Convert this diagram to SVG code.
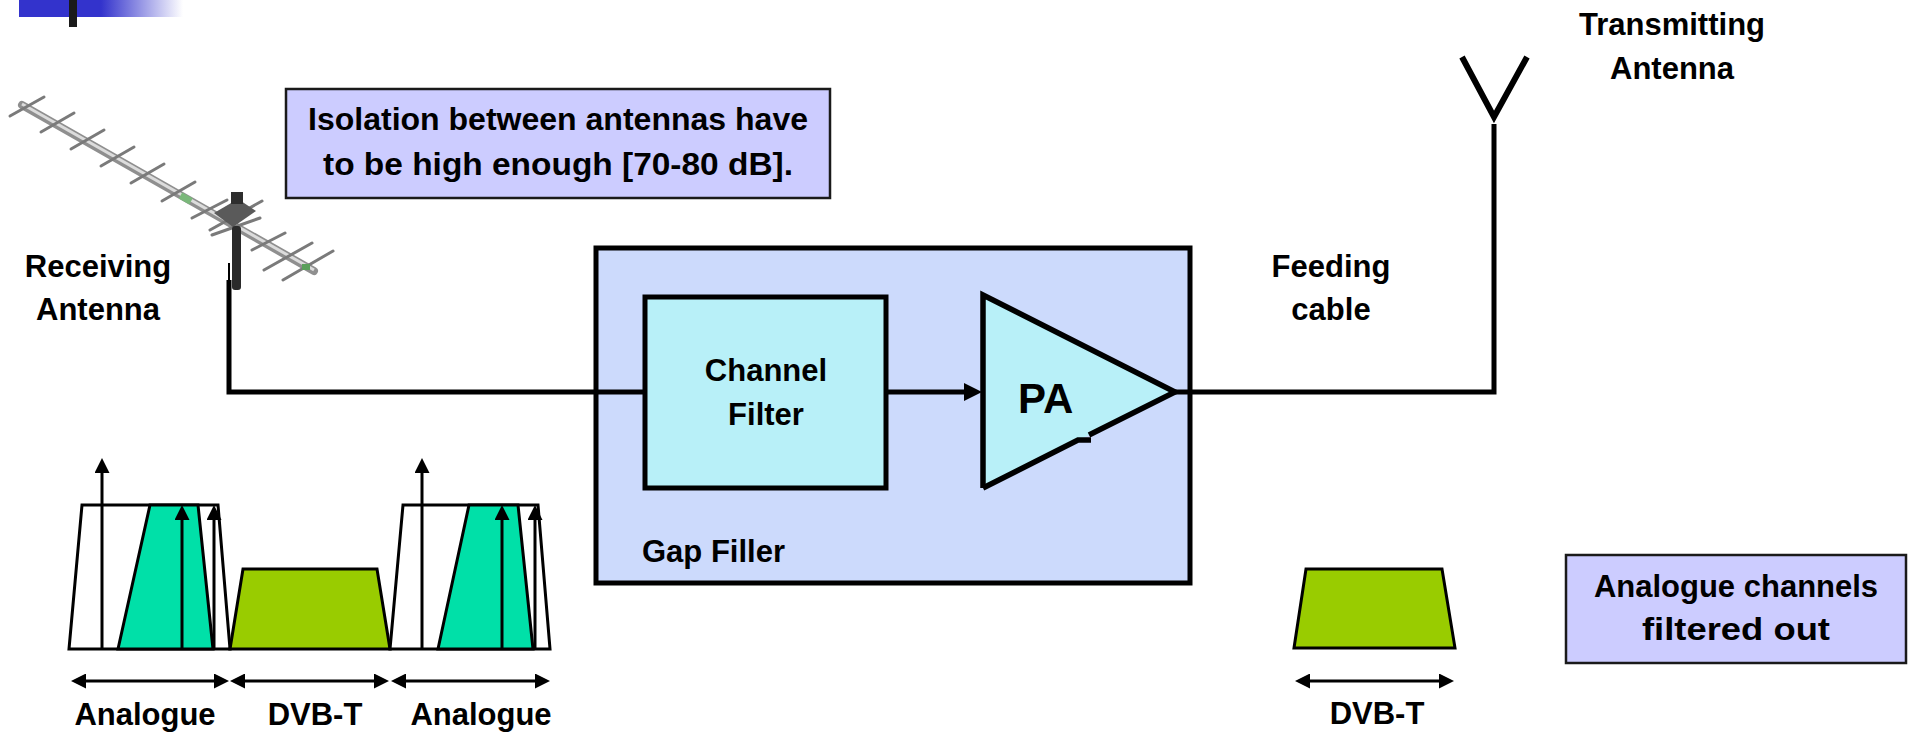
<svg xmlns="http://www.w3.org/2000/svg" width="1909" height="733" viewBox="0 0 1909 733">
  <style>
    .lbl { font-family: "Liberation Sans", Arial, sans-serif; font-weight: bold; font-size: 31px; fill: #000; }
    .mid { text-anchor: middle; }
    .wire { fill: none; stroke: #000; stroke-width: 5; }
    .spec { stroke: #000; stroke-width: 3; stroke-linejoin: miter; }
    .ana { fill: #ffffff; }
    .carrier { fill: #00e0a8; }
    .dvb { fill: #99cc00; }
    .tick { stroke: #000; stroke-width: 3; fill: none; marker-end: url(#head); }
    .span { stroke: #000; stroke-width: 3; fill: none; marker-start: url(#head); marker-end: url(#head); }
    .note { fill: #ccccff; stroke: #1a1a1a; stroke-width: 2.5; }
    .elem { stroke: #7a7a7a; stroke-width: 3; stroke-linecap: round; }
  </style>
  <defs>
    <linearGradient id="bar" x1="0" y1="0" x2="1" y2="0">
      <stop offset="0" stop-color="#3333cc"/>
      <stop offset="0.5" stop-color="#3333cc"/>
      <stop offset="1" stop-color="#ffffff"/>
    </linearGradient>
    <marker id="head" viewBox="0 0 10 10" refX="0" refY="5" markerWidth="15" markerHeight="15" markerUnits="userSpaceOnUse" orient="auto-start-reverse">
      <path d="M0,0 L10,5 L0,10 z" fill="#000"/>
    </marker>
    <marker id="headL" viewBox="0 0 10 10" refX="0" refY="5" markerWidth="18" markerHeight="18" markerUnits="userSpaceOnUse" orient="auto">
      <path d="M0,0 L10,5 L0,10 z" fill="#000"/>
    </marker>
    <filter id="soft" x="-5%" y="-5%" width="110%" height="110%">
      <feGaussianBlur stdDeviation="0.7"/>
    </filter>
  </defs>

  <rect width="1909" height="733" fill="#ffffff"/>

  <!-- header accent -->
  <g id="header-accent">
    <rect x="19" y="0" width="164" height="17" fill="url(#bar)"/>
    <rect x="69" y="0" width="8" height="27" fill="#1a1a1a"/>
  </g>

  <!-- Yagi receiving antenna -->
  <g id="receiving-antenna" filter="url(#soft)">
    <line x1="22" y1="105" x2="314" y2="271" stroke="#8f8f8f" stroke-width="8" stroke-linecap="round"/>
    <line x1="22" y1="104" x2="314" y2="270" stroke="#dcdcdc" stroke-width="3"/>
    <line class="elem" x1="10" y1="116" x2="44" y2="97"/>
    <line class="elem" x1="41" y1="132" x2="74" y2="113"/>
    <line class="elem" x1="71" y1="149" x2="104" y2="130"/>
    <line class="elem" x1="101" y1="166" x2="134" y2="147"/>
    <line class="elem" x1="131" y1="183" x2="164" y2="164"/>
    <line class="elem" x1="162" y1="201" x2="195" y2="182"/>
    <line class="elem" x1="192" y1="218" x2="227" y2="200"/>
    <line class="elem" x1="210" y1="230" x2="262" y2="201"/>
    <line class="elem" x1="212" y1="235" x2="260" y2="218"/>
    <line class="elem" x1="252" y1="250" x2="285" y2="233"/>
    <line class="elem" x1="264" y1="270" x2="312" y2="243"/>
    <line class="elem" x1="283" y1="280" x2="333" y2="251"/>
    <rect x="180" y="195" width="12" height="7" fill="#7ab87a" transform="rotate(29 186 198)"/>
    <rect x="302" y="264" width="8" height="6" fill="#5aa05a"/>
    <polygon points="214,213 238,199 256,211 233,227" fill="#5a5a5a"/>
    <rect x="231" y="192" width="12" height="12" fill="#2e2e2e"/>
    <rect x="232" y="226" width="9" height="64" rx="3" fill="#2b2b2b"/>
  </g>

  <!-- transmitting antenna symbol -->
  <g id="transmitting-antenna">
    <polyline points="1462,57 1494,117 1527,57" fill="none" stroke="#000" stroke-width="6"/>
  </g>

  <!-- gap filler enclosure -->
  <g id="gap-filler">
    <rect x="596" y="248" width="594" height="335" fill="#ccdafc" stroke="#000" stroke-width="5"/>
    <text class="lbl" x="642" y="562">Gap Filler</text>
  </g>

  <!-- channel filter -->
  <g id="channel-filter">
    <rect x="645" y="297" width="241" height="191" fill="#b8f0f8" stroke="#000" stroke-width="5"/>
    <text class="lbl mid" x="766" y="381">Channel</text>
    <text class="lbl mid" x="766" y="425">Filter</text>
  </g>

  <!-- power amplifier -->
  <g id="power-amplifier">
    <polygon points="983,295 1175,392 983,488" fill="#b8f0f8"/>
    <path d="M983,488 V295 L1175,392 L1089,435" fill="none" stroke="#000" stroke-width="5.5" stroke-linejoin="miter"/>
    <path d="M983,488 L1078,440 H1091" fill="none" stroke="#000" stroke-width="5.5"/>
    <text class="lbl" x="1018" y="413" style="font-size:42px">PA</text>
  </g>

  <!-- connectors -->
  <g id="connectors">
    <line x1="229" y1="263" x2="229" y2="282" stroke="#000" stroke-width="2"/>
    <path class="wire" d="M229,280 V392 H645"/>
    <line x1="886" y1="392" x2="964" y2="392" stroke="#000" stroke-width="5" marker-end="url(#headL)"/>
    <path class="wire" d="M1175,392 H1494 V124"/>
  </g>

  <!-- labels -->
  <g id="label-receiving">
    <text class="lbl mid" x="98" y="277">Receiving</text>
    <text class="lbl mid" x="98" y="320">Antenna</text>
  </g>
  <g id="label-transmitting">
    <text class="lbl mid" x="1672" y="35">Transmitting</text>
    <text class="lbl mid" x="1672" y="79">Antenna</text>
  </g>
  <g id="label-feeding">
    <text class="lbl mid" x="1331" y="277">Feeding</text>
    <text class="lbl mid" x="1331" y="320">cable</text>
  </g>

  <!-- isolation note -->
  <g id="note-isolation">
    <rect class="note" x="286" y="89" width="544" height="109"/>
    <text class="lbl mid" x="558" y="130" textLength="500" lengthAdjust="spacingAndGlyphs">Isolation between antennas have</text>
    <text class="lbl mid" x="558" y="175" textLength="470" lengthAdjust="spacingAndGlyphs">to be high enough [70-80 dB].</text>
  </g>

  <!-- filtered note -->
  <g id="note-filtered">
    <rect class="note" x="1566" y="555" width="340" height="108"/>
    <text class="lbl mid" x="1736" y="597">Analogue channels</text>
    <text class="lbl mid" x="1736" y="640" textLength="188" lengthAdjust="spacingAndGlyphs">filtered out</text>
  </g>

  <!-- input spectrum -->
  <g id="spectrum-input">
    <polygon class="spec ana" points="69,649 82,505 218,505 230,649"/>
    <polygon class="spec carrier" points="118,649 150,505 198,505 213,649"/>
    <line class="tick" x1="102" y1="649" x2="102" y2="473"/>
    <line class="tick" x1="182" y1="649" x2="182" y2="520"/>
    <line class="tick" x1="214" y1="649" x2="214" y2="520"/>

    <polygon class="spec dvb" points="230,649 243,569 377,569 390,649"/>

    <polygon class="spec ana" points="390,649 403,505 538,505 550,649"/>
    <polygon class="spec carrier" points="438,649 469,505 518,505 533,649"/>
    <line class="tick" x1="422" y1="649" x2="422" y2="473"/>
    <line class="tick" x1="502" y1="649" x2="502" y2="520"/>
    <line class="tick" x1="535" y1="649" x2="535" y2="520"/>

    <line class="span" x1="86" y1="681" x2="214" y2="681"/>
    <line class="span" x1="245" y1="681" x2="374" y2="681"/>
    <line class="span" x1="406" y1="681" x2="535" y2="681"/>

    <text class="lbl mid" x="145" y="725">Analogue</text>
    <text class="lbl mid" x="315" y="725">DVB-T</text>
    <text class="lbl mid" x="481" y="725">Analogue</text>
  </g>

  <!-- output spectrum -->
  <g id="spectrum-output">
    <polygon class="spec dvb" points="1294,648 1306,569 1442,569 1455,648"/>
    <line class="span" x1="1310" y1="681" x2="1439" y2="681"/>
    <text class="lbl mid" x="1377" y="724">DVB-T</text>
  </g>
</svg>
